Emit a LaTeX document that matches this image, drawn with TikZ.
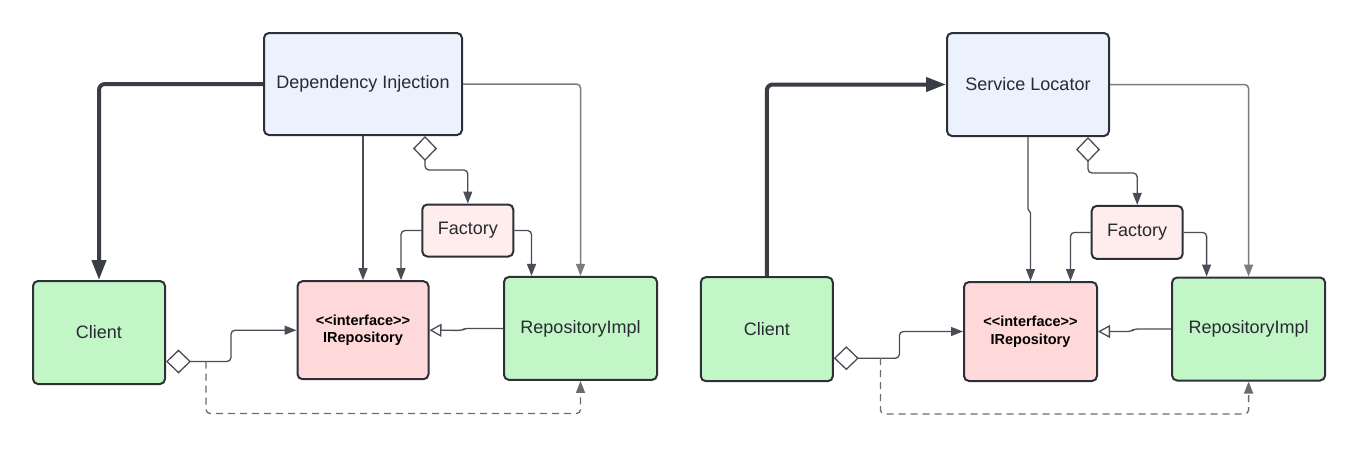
\documentclass[tikz,border=0pt]{standalone}
\usepackage{fontspec}
\setmainfont{Liberation Sans}
\usetikzlibrary{arrows.meta,calc}
\definecolor{bluefill}{HTML}{ECF2FD}
\definecolor{greenfill}{HTML}{C3F6C7}
\definecolor{pinkfill}{HTML}{FFD9D9}
\definecolor{factfill}{HTML}{FFECEC}
\definecolor{border}{HTML}{2E3038}
\definecolor{txt}{HTML}{262A31}
\definecolor{conn}{HTML}{4A4D55}
\definecolor{connlight}{HTML}{7A7C81}
\definecolor{thick}{HTML}{3A3D45}
\definecolor{dash}{HTML}{6A6B6E}
\begin{document}
\begin{tikzpicture}[x=1pt,y=-1pt,
  box/.style={draw=border,line width=2pt,rounded corners=5pt,inner sep=0pt,
    text=txt,font=\fontsize{18}{22}\selectfont,align=center},
  bluebox/.style={box,fill=bluefill},
  greenbox/.style={box,fill=greenfill},
  ifbox/.style={box,fill=pinkfill,font=\fontsize{14.5}{17.5}\selectfont\bfseries,text=black},
  factbox/.style={box,fill=factfill},
  link/.style={draw=conn,line width=1.3pt,rounded corners=4pt,-{Triangle[length=12pt,width=9pt]}},
  linklight/.style={link,draw=connlight,line width=1.5pt},
  strong/.style={draw=thick,line width=4pt,rounded corners=6pt,-{Triangle[length=20pt,width=14pt]}},
  aggr/.style={draw=conn,line width=1.3pt,rounded corners=4pt,
    {Diamond[open,length=25pt,width=24pt]}-{Triangle[length=12pt,width=9pt]}},
  realize/.style={draw=conn,line width=1.3pt,rounded corners=3pt,-{Triangle[open,length=12pt,width=13pt]}},
  dep/.style={draw=dash,line width=1.3pt,dash pattern=on 7pt off 5pt,rounded corners=4pt,-{Triangle[length=12pt,width=9pt]}}
]
\useasboundingbox[fill=white] (0,0) rectangle (1358,448);

% ---------- left diagram ----------
\node[bluebox,minimum width=198pt,minimum height=102pt] (di) at (363,84) {Dependency Injection};
\node[greenbox,minimum width=132pt,minimum height=103pt] (clientL) at (99,332.5) {Client};
\node[ifbox,minimum width=131pt,minimum height=98pt] (irepoL) at (363,330.2) {{<}{<}interface{>}{>}\\IRepository};
\node[greenbox,minimum width=153pt,minimum height=103pt] (implL) at (580.5,328.4) {RepositoryImpl};
\node[factbox,minimum width=91pt,minimum height=52pt] (fL) at (467.8,230.5) {Factory};

\draw[strong] (di.west) -| (clientL.north);
\draw[linklight] (di.east) -| (implL.north);
\draw[link] (di.south) -- (irepoL.north);
\draw[aggr] ([xshift=62pt]di.south) -- ++(0,34) -| (fL.north);
\draw[link] (fL.west) -| ([xshift=38pt]irepoL.north);
\draw[link] (fL.east) -| ([xshift=-49pt]implL.north);
\draw[realize] (implL.west) -- ++(-38,0) -- ++(-3,2) -- (irepoL.east);
\draw[aggr] ([yshift=-29pt]clientL.east) -- ++(65,0) |- (irepoL.west);
\coordinate (jL) at ([shift={(40pt,-29pt)}]clientL.east);
\draw[dep] (jL) -- ++(0,52) -| (implL.south);

% ---------- right diagram ----------
\node[bluebox,minimum width=162pt,minimum height=103pt] (sl) at (1028,84.5) {Service Locator};
\node[greenbox,minimum width=132pt,minimum height=104pt] (clientR) at (766.8,329.2) {Client};
\node[ifbox,minimum width=133pt,minimum height=99pt] (irepoR) at (1030.5,331.5) {{<}{<}interface{>}{>}\\IRepository};
\node[greenbox,minimum width=153pt,minimum height=103pt] (implR) at (1248.6,329) {RepositoryImpl};
\node[factbox,minimum width=91pt,minimum height=53pt] (fR) at (1137.2,232.4) {Factory};

\draw[strong] (clientR.north) |- (sl.west);
\draw[linklight] (sl.east) -| (implR.north);
\draw[link,rounded corners=0pt] (sl.south) -- ++(0,72) -- ([yshift=68pt]irepoR.north) -- (irepoR.north);
\draw[aggr] ([xshift=60pt]sl.south) -- ++(0,36) -| (fR.north);
\draw[link] (fR.west) -| ([xshift=40pt]irepoR.north);
\draw[link] (fR.east) -| ([xshift=-42pt]implR.north);
\draw[realize] (implR.west) -- ++(-37,0) -- ++(-3,2.5) -- (irepoR.east);
\draw[aggr] ([yshift=-29pt]clientR.east) -- ++(65.6,0) |- (irepoR.west);
\coordinate (jR) at ([shift={(46.6pt,-29pt)}]clientR.east);
\draw[dep] (jR) -- ++(0,55.7) -| (implR.south);
\end{tikzpicture}
\end{document}
